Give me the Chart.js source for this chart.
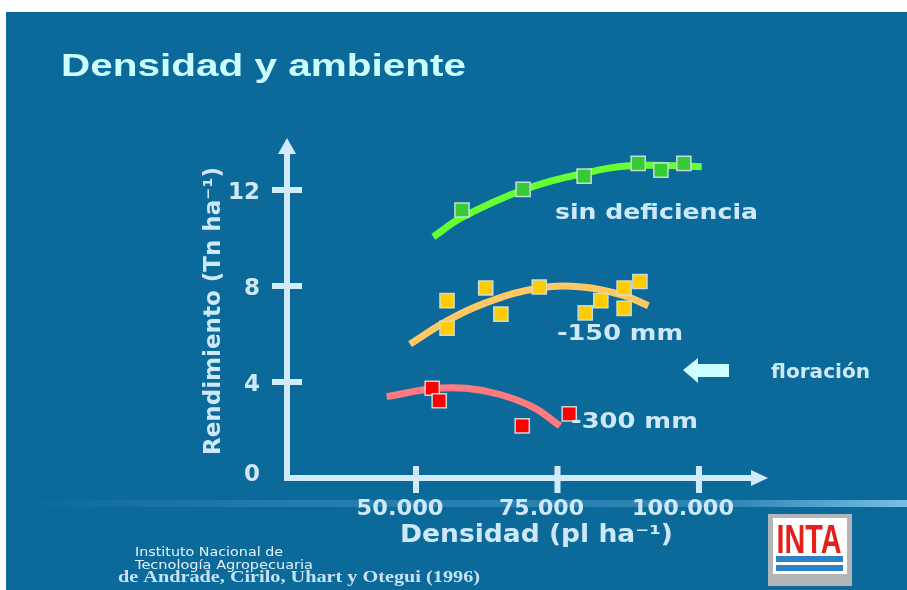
<!DOCTYPE html>
<html><head><meta charset="utf-8">
<script src="https://cdn.jsdelivr.net/npm/chart.js@4"></script>
<style>
html,body{margin:0;padding:0;background:#fff;}
#wrap{position:relative;width:907px;height:590px;overflow:hidden;background:#fff;}
#panel{position:absolute;left:6px;top:12px;right:0;bottom:0;background:#0b6a9a;}
#stripe{position:absolute;left:20px;right:0;top:500px;height:7px;
 background:linear-gradient(to right,rgba(90,165,215,0) 0%,rgba(90,165,215,0.3) 30%,rgba(100,175,220,0.4) 80%,rgba(130,200,240,0.9) 100%);}
canvas{position:absolute;left:0;top:0;}
</style></head><body>
<div id="wrap"><div id="panel"></div><div id="stripe"></div><canvas id="c" width="907" height="590"></canvas></div>
<script>
// ---- data ----
const densityTicks = [50000, 75000, 100000];
const densityTickLabels = ['50.000', '75.000', '100.000'];
const yieldTicks = [0, 4, 8, 12];
const yieldTickLabels = ['0', '4', '8', '12'];
const seriesNames = ['sin deficiencia', '-150 mm', '-300 mm'];

// observed points (density, yield)
const sinDefX = [58120, 68920, 79700, 89260, 93270, 97330];
const sinDefY = [11.17, 12.03, 12.58, 13.11, 12.83, 13.11];
const m150X = [55480, 55480, 62320, 65000, 71780, 79900, 82660, 86770, 89570, 86770];
const m150Y = [7.39, 6.24, 7.92, 6.83, 7.96, 6.88, 7.39, 7.92, 8.19, 7.07];
const m300X = [52860, 54100, 68770, 77070];
const m300Y = [3.74, 3.22, 2.17, 2.67];

// fitted curves
const sinDefCurveX = [53060, 58130, 68910, 79690, 88350, 100490];
const sinDefCurveY = [10.05, 10.86, 12.0, 12.7, 13.02, 12.97];
const m150CurveX = [48940, 55480, 62320, 71790, 79870, 86760, 91060];
const m150CurveY = [5.58, 6.55, 7.3, 7.92, 7.95, 7.6, 7.18];
const m300CurveX = [44820, 52830, 58840, 64850, 70680, 75450];
const m300CurveY = [3.39, 3.72, 3.74, 3.48, 2.95, 2.17];

const pts = (xs, ys) => xs.map((x, i) => ({x: x, y: ys[i]}));

const AXIS = '#d2ebfb';
const TXT = '#cfe8f8';

function fitText(ctx, text, x, y, font, width, align, color, baseline) {
  ctx.save();
  ctx.font = font;
  const w = ctx.measureText(text).width;
  const s = width / w;
  ctx.translate(x, y);
  ctx.scale(s, 1);
  ctx.textAlign = align;
  ctx.textBaseline = baseline || 'alphabetic';
  ctx.fillStyle = color;
  ctx.fillText(text, 0, 0);
  ctx.restore();
}

const axesPlugin = {
  id: 'axesPlugin',
  beforeDatasetsDraw(chart) {
    const ctx = chart.ctx, xs = chart.scales.x, ys = chart.scales.y;
    const x0 = xs.left, y0 = ys.bottom, xEnd = xs.right, yTop = ys.top;
    ctx.save();
    ctx.strokeStyle = AXIS; ctx.fillStyle = AXIS; ctx.lineWidth = 6; ctx.lineCap = 'butt';
    ctx.beginPath();
    ctx.moveTo(x0, yTop + 12); ctx.lineTo(x0, y0 + 3);
    ctx.moveTo(x0 - 3, y0); ctx.lineTo(xEnd - 14, y0);
    ctx.stroke();
    ctx.beginPath();
    ctx.moveTo(x0, yTop); ctx.lineTo(x0 - 9, yTop + 16); ctx.lineTo(x0 + 9, yTop + 16); ctx.closePath(); ctx.fill();
    ctx.beginPath();
    ctx.moveTo(xEnd, y0); ctx.lineTo(xEnd - 17, y0 - 8); ctx.lineTo(xEnd - 17, y0 + 8); ctx.closePath(); ctx.fill();
    ctx.beginPath();
    densityTicks.forEach(v => { const p = xs.getPixelForValue(v); ctx.moveTo(p, y0 - 12); ctx.lineTo(p, y0 + 15); });
    yieldTicks.forEach(v => { if (v === 0) return; const p = ys.getPixelForValue(v); ctx.moveTo(x0 - 15, p); ctx.lineTo(x0 + 15, p); });
    ctx.stroke();
    ctx.restore();
  },
  afterDraw(chart) {
    const ctx = chart.ctx, xs = chart.scales.x, ys = chart.scales.y;
    const B = 'bold 22px "DejaVu Sans"';
    const tw = [87, 85, 102];
    densityTicks.forEach((v, i) => {
      fitText(ctx, densityTickLabels[i], xs.getPixelForValue(v) - 16, ys.bottom + 37, B, tw[i], 'center', TXT);
    });
    yieldTicks.forEach((v, i) => {
      ctx.save(); ctx.font = 'bold 23px "DejaVu Sans"'; ctx.fillStyle = TXT; ctx.textAlign = 'right'; ctx.textBaseline = 'middle';
      ctx.fillText(yieldTickLabels[i], xs.left - 27, ys.getPixelForValue(v) + (v === 0 ? -3 : 3));
      ctx.restore();
    });
    fitText(ctx, 'Densidad (pl ha\u207B\u00B9)', 400, 542, 'bold 24px "DejaVu Sans"', 273, 'left', TXT);
    ctx.save();
    ctx.translate(214, 311); ctx.rotate(-Math.PI / 2);
    fitText(ctx, 'Rendimiento (Tn ha\u207B\u00B9)', 0, 0, 'bold 23px "DejaVu Sans"', 288, 'center', TXT, 'middle');
    ctx.restore();
    fitText(ctx, seriesNames[0], 555, 219, B, 203, 'left', TXT);
    fitText(ctx, seriesNames[1], 557, 340, B, 126, 'left', TXT);
    fitText(ctx, seriesNames[2], 571, 428, B, 127, 'left', TXT);
    fitText(ctx, 'floración', 771, 378, 'bold 19px "DejaVu Sans"', 99, 'left', TXT);
    ctx.save(); ctx.fillStyle = '#ccffff';
    ctx.beginPath();
    ctx.moveTo(683, 370); ctx.lineTo(698, 358); ctx.lineTo(698, 364); ctx.lineTo(729, 364);
    ctx.lineTo(729, 377); ctx.lineTo(698, 377); ctx.lineTo(698, 383); ctx.closePath(); ctx.fill();
    ctx.restore();
    fitText(ctx, 'Densidad y ambiente', 61, 76, 'bold 32px "Liberation Sans"', 405, 'left', '#ccffff');
    fitText(ctx, 'Instituto Nacional de', 135, 556, '12px "DejaVu Sans"', 148, 'left', '#e4f2fa');
    fitText(ctx, 'Tecnología Agropecuaria', 135, 569, '12px "DejaVu Sans"', 178, 'left', '#e4f2fa');
    fitText(ctx, 'de Andrade, Cirilo, Uhart y Otegui (1996)', 118, 582, 'bold 17px "Liberation Serif"', 362, 'left', '#c6e2f4');
    ctx.save();
    ctx.fillStyle = '#b3b6b8'; ctx.fillRect(768, 514, 84, 72);
    ctx.fillStyle = '#ffffff'; ctx.fillRect(773, 518, 74, 56);
    ctx.fillStyle = '#2b82c6'; ctx.fillRect(776, 556, 67, 6); ctx.fillRect(776, 565, 67, 6);
    ctx.translate(809, 553); ctx.scale(1, 1.35);
    ctx.font = 'bold 30px "Liberation Sans Narrow", "Liberation Sans"';
    const w = ctx.measureText('INTA').width; ctx.scale(65 / w, 1);
    ctx.fillStyle = '#e3211c'; ctx.textAlign = 'center'; ctx.textBaseline = 'alphabetic';
    ctx.fillText('INTA', 0, 0);
    ctx.restore();
  }
};

const sq = (fill) => ({type: 'scatter', pointStyle: 'rect', pointRadius: 10, pointHoverRadius: 10,
  backgroundColor: fill, borderColor: 'rgba(205,222,222,0.95)', borderWidth: 1.5, showLine: false});
const cv = (color) => ({type: 'scatter', showLine: true, borderColor: color, borderWidth: 7,
  pointRadius: 0, tension: 0.4, fill: false, borderCapStyle: 'butt'});

new Chart(document.getElementById('c'), {
  type: 'scatter',
  data: {
    datasets: [
      Object.assign(sq('#33cc33'), {label: seriesNames[0], data: pts(sinDefX, sinDefY)}),
      Object.assign(sq('#ffcc00'), {label: seriesNames[1], data: pts(m150X, m150Y)}),
      Object.assign(sq('#ff0000'), {label: seriesNames[2], data: pts(m300X, m300Y)}),
      Object.assign(cv('#66ff33'), {label: seriesNames[0] + ' ajuste', data: pts(sinDefCurveX, sinDefCurveY)}),
      Object.assign(cv('#ffc865'), {label: seriesNames[1] + ' ajuste', data: pts(m150CurveX, m150CurveY)}),
      Object.assign(cv('#ff7b80'), {label: seriesNames[2] + ' ajuste', data: pts(m300CurveX, m300CurveY)})
    ]
  },
  options: {
    responsive: false,
    animation: false,
    events: [],
    layout: {padding: {left: 287, right: 139, top: 138, bottom: 112}},
    plugins: {legend: {display: false}, tooltip: {enabled: false}},
    scales: {
      x: {type: 'linear', display: false, min: 27200, max: 112200},
      y: {type: 'linear', display: false, min: 0, max: 14.17}
    }
  },
  plugins: [axesPlugin]
});
</script>
</body></html>
